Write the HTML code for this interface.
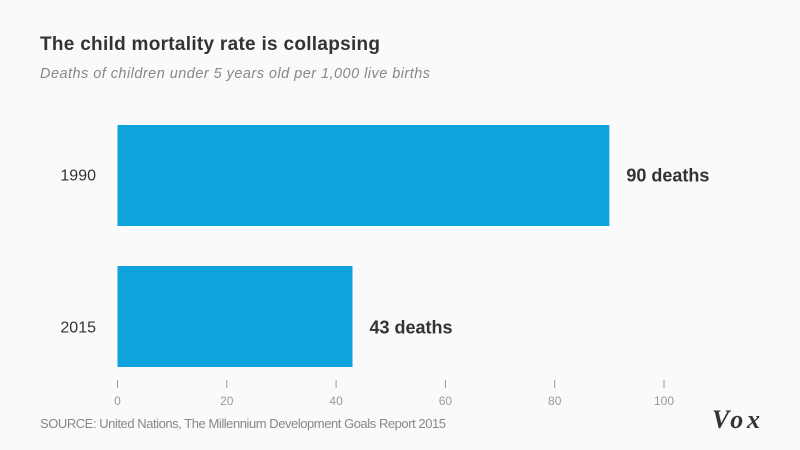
<!DOCTYPE html>
<html><head><meta charset="utf-8"><style>
html,body{margin:0;padding:0;background:#fafafa;}
svg{display:block;font-family:"Liberation Sans",sans-serif;}
</style></head><body>
<svg id="chart" width="800" height="450" viewBox="0 0 800 450">
<rect width="800" height="450" fill="#fafafa"/>
<text x="40" y="50" font-size="19" font-weight="bold" fill="#333" textLength="340">The child mortality rate is collapsing</text>
<text x="40" y="78" font-size="14.5" font-style="italic" fill="#888" textLength="390">Deaths of children under 5 years old  per 1,000 live births</text>
<g id="bars"></g>
<g id="axis"></g>
<text x="40" y="428" font-size="13" fill="#888" textLength="406">SOURCE: United Nations, The Millennium Development Goals Report 2015</text>
<text x="712" y="428" font-size="26" font-weight="bold" font-style="italic" fill="#333" font-family="Liberation Serif,serif" textLength="48">Vox</text>
</svg>
<script>
const categories=["1990","2015"];
const values=[90,43];
const valueLabels=["90 deaths","43 deaths"];
const ticks=[0,20,40,60,80,100];
const ns="http://www.w3.org/2000/svg";
const x=v=>117.5+v*5.465;
const bandTop=[125,266], bandH=101;
const labelShift=[-1,10];
const barsG=document.getElementById('bars'), axisG=document.getElementById('axis');
function mk(tag,attrs,parent){const e=document.createElementNS(ns,tag);for(const k in attrs)e.setAttribute(k,attrs[k]);parent.appendChild(e);return e;}
categories.forEach((c,i)=>{
  const y=bandTop[i];
  const cy=y+bandH/2+labelShift[i];
  const r=mk('rect',{x:x(0),y:y,width:x(values[i])-x(0),height:bandH,fill:'#0fa3dc'},barsG);
  
  
  const l=mk('text',{x:96,y:cy+6,'font-size':16,fill:'#333','text-anchor':'end'},barsG);
  l.textContent=c;
  
  
  const v=mk('text',{x:x(values[i])+17,y:cy+7,'font-size':18,'font-weight':'bold',fill:'#333'},barsG);
  v.textContent=valueLabels[i];
  
  
});
ticks.forEach(t=>{
  const ln=mk('line',{x1:x(t),x2:x(t),y1:380,y2:388,stroke:'#999','stroke-width':1},axisG);
  
  
  const tx=mk('text',{x:x(t),y:405,'font-size':12,fill:'#999','text-anchor':'middle'},axisG);
  tx.textContent=t;
  
  
});
</script>
</body></html>
